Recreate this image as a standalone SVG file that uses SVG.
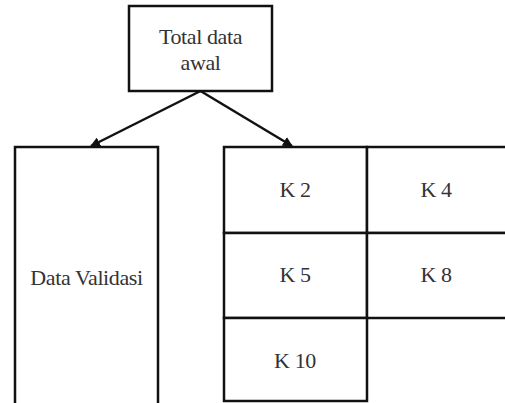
<svg xmlns="http://www.w3.org/2000/svg" width="505" height="403" viewBox="0 0 505 403">
<defs>
<style>
.box{fill:#fff;stroke:#111;stroke-width:2.5}
.lbl{font-family:"Liberation Serif","Times New Roman",serif;font-size:22px;letter-spacing:-0.4px;fill:#333;text-anchor:middle}
.conn{stroke:#111;stroke-width:2.5;fill:none}
</style>
<marker id="ah" viewBox="0 0 10 10" refX="9" refY="5" markerWidth="4" markerHeight="4" orient="auto" markerUnits="strokeWidth">
<path d="M0,0 L10,5 L0,10 Z" fill="#111"/>
</marker>
</defs>
<rect width="505" height="403" fill="#fff"/>
<g id="total">
<rect class="box" x="129" y="6" width="143" height="85"/>
<text class="lbl" x="200.5" y="44">Total data</text>
<text class="lbl" x="200.5" y="70">awal</text>
</g>
<g id="validasi">
<rect class="box" x="15" y="147" width="143" height="270"/>
<text class="lbl" x="86.5" y="285">Data Validasi</text>
</g>
<g id="k2">
<rect class="box" x="224" y="147" width="143" height="86"/>
<text class="lbl" x="295" y="197">K 2</text>
</g>
<g id="k4">
<rect class="box" x="367" y="147" width="145" height="86"/>
<text class="lbl" x="436" y="197">K 4</text>
</g>
<g id="k5">
<rect class="box" x="224" y="233" width="143" height="85"/>
<text class="lbl" x="295" y="282">K 5</text>
</g>
<g id="k8">
<rect class="box" x="367" y="233" width="145" height="85"/>
<text class="lbl" x="436" y="282">K 8</text>
</g>
<g id="k10">
<rect class="box" x="224" y="318" width="143" height="83"/>
<text class="lbl" x="295" y="368">K 10</text>
</g>
<g id="connectors">
<line class="conn" x1="200.5" y1="91" x2="91" y2="146" marker-end="url(#ah)"/>
<line class="conn" x1="200.5" y1="91" x2="292" y2="146" marker-end="url(#ah)"/>
</g>
</svg>
